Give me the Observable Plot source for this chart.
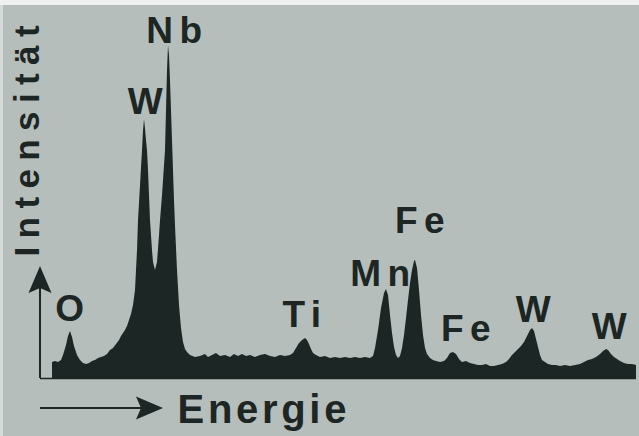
<!DOCTYPE html>
<html><head><meta charset="utf-8">
<script src="https://cdn.jsdelivr.net/npm/d3@7"></script>
<script src="https://cdn.jsdelivr.net/npm/@observablehq/plot@0.6"></script>
<style>html,body{margin:0;padding:0;background:#fff;overflow:hidden}</style>
</head><body><div id="chart"></div>
<script>
// Detector channel (arbitrary energy units) and counts
const channel = [
  12,15,18,21,23,26,28,30,32,34,
  37,40,43,46,49,52,55,58,61,64,
  67,70,73,76,79,81,83,85,87,89,
  91,93,95,97,98,100,102,103,104,105,
  106,107,108,110,112,113,115,117,119,120,
  122,124,125,126,127,128,129,130,132,134,
  135,137,139,141,143,145,147,150,155,160,
  165,168,172,176,180,185,190,194,198,202,
  206,210,215,220,225,230,235,240,245,250,
  253,256,259,262,265,267,269,271,273,276,
  280,285,290,295,300,305,310,315,320,325,
  330,333,335,338,341,344,346,348,350,352,
  354,356,358,360,362,364,366,368,370,372,
  374,375,377,379,381,383,385,387,390,393,
  396,400,404,407,410,413,416,419,422,426,
  430,434,438,442,446,450,454,458,462,466,
  469,472,475,478,481,484,487,490,492,494,
  496,498,500,502,505,508,512,516,520,525,
  530,535,540,544,548,552,556,560,563,566,
  568,571,574,577,580,584,588,592,596
];
const counts = [
  48,51,48,54,69,99,126,141,123,96,
  69,54,45,42,45,51,54,60,63,66,
  72,84,90,102,114,126,135,144,156,174,
  192,219,264,384,474,579,684,744,777,750,
  714,684,624,474,384,348,324,348,429,474,
  549,639,684,804,924,999,969,894,714,534,
  459,324,219,150,108,87,78,69,63,66,
  72,63,69,75,66,69,63,72,66,72,
  66,69,63,69,72,66,63,69,66,69,
  75,90,105,114,120,114,102,87,75,69,
  63,66,60,63,60,63,60,63,60,63,
  60,66,90,144,210,255,267,249,189,135,
  93,69,60,66,90,129,180,234,285,324,
  351,354,330,264,189,129,90,72,60,54,
  51,48,51,60,75,78,72,57,48,51,
  45,42,39,39,42,36,36,39,42,48,
  57,69,78,87,96,108,126,144,150,141,
  117,93,69,54,48,42,39,39,36,39,
  36,39,42,48,54,57,63,72,81,87,
  84,72,63,57,51,45,42,42,39
];
// Peak labels (element lines)
const peakNames = ["O","W","Nb","Ti","Mn","Fe","Fe","W","W"];
const peakChannel = [29.5,105,134,261.5,340,379.5,425.5,493,569];
const peakLabelCount = [174,795,1008,156,279,438,114,171,120];
// Axis titles
const xTitle = "Energie";
const yTitle = "Intensität";

const ink = "#1c2624";
const spectrum = channel.map((c, i) => ({channel: c, count: counts[i]}));
const labels = peakNames.map((n, i) => ({name: n, channel: peakChannel[i], count: peakLabelCount[i]}));

// axis arrows in data units (channel, count)
const arrows = [
  {x1: 0, y1: -90, x2: 123, y2: -90},
  {x1: 0, y1: 0, x2: 0, y2: 336}
];
function arrowMark(index, scales) {
  const g = d3.create("svg:g");
  for (const a of arrows) {
    const x1 = scales.x(a.x1), y1 = scales.y(a.y1), x2 = scales.x(a.x2), y2 = scales.y(a.y2);
    const len = Math.hypot(x2 - x1, y2 - y1);
    const ux = (x2 - x1) / len, uy = (y2 - y1) / len;
    const px = -uy, py = ux;
    const L = 27, W = 11.5, N = 5;
    const bx = x2 - ux * L, by = y2 - uy * L;
    const nx = x2 - ux * (L - N), ny = y2 - uy * (L - N);
    g.append("line").attr("x1", x1).attr("y1", y1).attr("x2", nx).attr("y2", ny)
      .attr("stroke", ink).attr("stroke-width", 2);
    g.append("path")
      .attr("d", `M${x2},${y2}L${bx + px * W},${by + py * W}L${nx},${ny}L${bx - px * W},${by - py * W}Z`)
      .attr("fill", ink);
  }
  return g.node();
}

const chart = Plot.plot({
  width: 639,
  height: 436,
  marginLeft: 40,
  marginRight: 3,
  marginTop: 45,
  marginBottom: 58,
  x: {domain: [0, 596], axis: null},
  y: {domain: [0, 1000], axis: null},
  style: {
    background: "linear-gradient(to bottom, #eef0ef 0 5px, transparent 5px), linear-gradient(to right, #d6dbd9 0 3px, #b6bebb 3px)",
    overflow: "visible"
  },
  marks: [
    Plot.areaY(spectrum, {x: "channel", y: "count", fill: ink, curve: "linear"}),
    Plot.ruleY([0], {stroke: ink, strokeWidth: 1.5}),
    arrowMark,
    Plot.text(labels, {x: "channel", y: "count", text: "name", fill: ink, fontSize: 37,
      fontWeight: "bold", fontFamily: "Liberation Sans", lineAnchor: "bottom", textAnchor: "middle", dx: 3}),
    Plot.text([yTitle], {x: -2, y: 726, text: d => d, rotate: -90, fill: ink, fontSize: 35,
      fontWeight: "bold", fontFamily: "Liberation Sans", lineAnchor: "bottom", textAnchor: "middle"}),
    Plot.text([xTitle], {x: 137, y: -135, text: d => d, fill: ink, fontSize: 40,
      fontWeight: "bold", fontFamily: "Liberation Sans", lineAnchor: "bottom", textAnchor: "start"})
  ]
});
const textGroups = chart.querySelectorAll('g[aria-label="text"]');
const spacing = [6.5, 8.4, 3.7];
textGroups.forEach((g, i) => g.setAttribute("letter-spacing", spacing[i] + "px"));
document.getElementById("chart").appendChild(chart);
</script>
</body></html>
